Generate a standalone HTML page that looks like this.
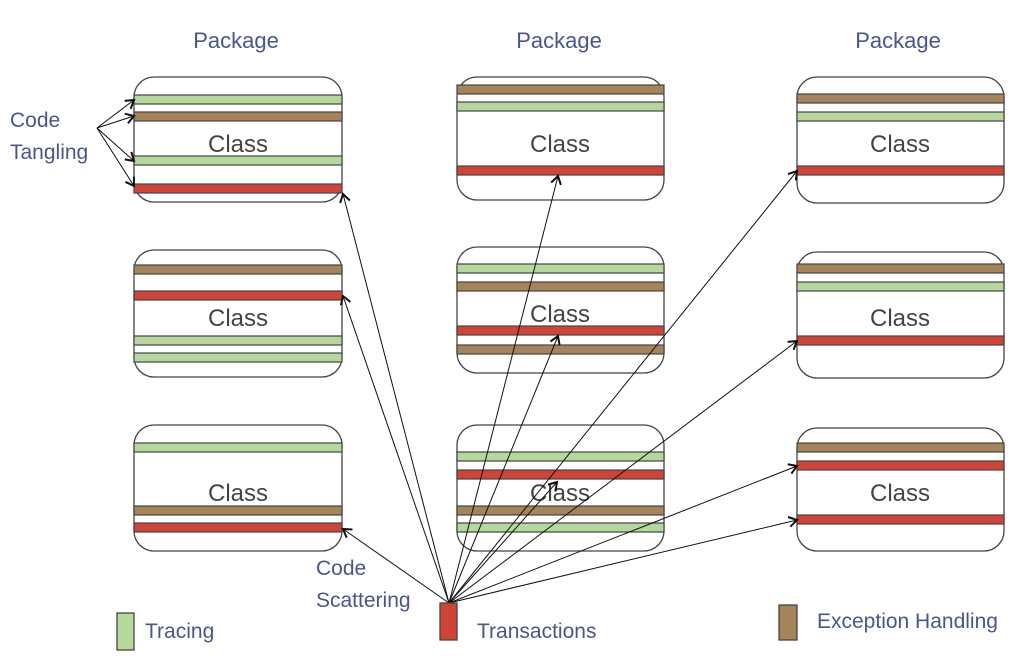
<!DOCTYPE html>
<html><head><meta charset="utf-8"><style>
html,body{margin:0;padding:0;background:#fff;}
svg{display:block;}
.t{font-family:"Liberation Sans",sans-serif;fill:#4a5590;}
.c{font-family:"Liberation Sans",sans-serif;fill:#444;font-size:24px;}
</style></head><body>
<svg width="1024" height="656" viewBox="0 0 1024 656" xmlns="http://www.w3.org/2000/svg">
<defs>
<marker id="a" markerWidth="12" markerHeight="12" refX="10" refY="6" orient="auto" markerUnits="userSpaceOnUse">
<path d="M2,1 L10,6 L2,11" fill="none" stroke="#111" stroke-width="2"/>
</marker>
</defs>
<g class="t" font-size="22" text-anchor="middle">
<text x="236" y="48">Package</text>
<text x="559" y="48">Package</text>
<text x="898" y="48">Package</text>
</g>
<g fill="#fff" stroke="#444" stroke-width="1.3">
<rect x="134" y="77" width="208" height="125" rx="20"/>
<rect x="134" y="250" width="208" height="127" rx="20"/>
<rect x="134" y="425" width="208" height="126" rx="20"/>
<rect x="457" y="77" width="207" height="123" rx="20"/>
<rect x="457" y="247" width="207" height="126" rx="20"/>
<rect x="457" y="425" width="207" height="126" rx="20"/>
<rect x="797" y="77" width="207" height="126" rx="20"/>
<rect x="797" y="252" width="207" height="126" rx="20"/>
<rect x="797" y="428" width="207" height="123" rx="20"/>
</g>
<g stroke="#444" stroke-width="1.2">
<!-- col1 -->
<rect x="134" y="95" width="208" height="9" fill="#b5d89c"/>
<rect x="134" y="112" width="208" height="9" fill="#a6845a"/>
<rect x="134" y="156" width="208" height="9" fill="#b5d89c"/>
<rect x="134" y="184" width="208" height="9" fill="#cf4436"/>
<rect x="134" y="265" width="208" height="9" fill="#a6845a"/>
<rect x="134" y="291" width="208" height="9" fill="#cf4436"/>
<rect x="134" y="336" width="208" height="9" fill="#b5d89c"/>
<rect x="134" y="353" width="208" height="9" fill="#b5d89c"/>
<rect x="134" y="443" width="208" height="9" fill="#b5d89c"/>
<rect x="134" y="506" width="208" height="9" fill="#a6845a"/>
<rect x="134" y="523" width="208" height="9" fill="#cf4436"/>
<!-- col2 -->
<rect x="457" y="85" width="207" height="9" fill="#a6845a"/>
<rect x="457" y="102" width="207" height="9" fill="#b5d89c"/>
<rect x="457" y="166" width="207" height="9" fill="#cf4436"/>
<rect x="457" y="264" width="207" height="9" fill="#b5d89c"/>
<rect x="457" y="282" width="207" height="9" fill="#a6845a"/>
<rect x="457" y="326" width="207" height="9" fill="#cf4436"/>
<rect x="457" y="345" width="207" height="9" fill="#a6845a"/>
<rect x="457" y="452" width="207" height="9" fill="#b5d89c"/>
<rect x="457" y="470" width="207" height="9" fill="#cf4436"/>
<rect x="457" y="506" width="207" height="9" fill="#a6845a"/>
<rect x="457" y="523" width="207" height="9" fill="#b5d89c"/>
<!-- col3 -->
<rect x="797" y="94" width="207" height="9" fill="#a6845a"/>
<rect x="797" y="112" width="207" height="9" fill="#b5d89c"/>
<rect x="797" y="166" width="207" height="9" fill="#cf4436"/>
<rect x="797" y="264" width="207" height="9" fill="#a6845a"/>
<rect x="797" y="282" width="207" height="9" fill="#b5d89c"/>
<rect x="797" y="336" width="207" height="9" fill="#cf4436"/>
<rect x="797" y="443" width="207" height="9" fill="#a6845a"/>
<rect x="797" y="461" width="207" height="9" fill="#cf4436"/>
<rect x="797" y="515" width="207" height="9" fill="#cf4436"/>
</g>
<g class="c" text-anchor="middle">
<text x="238" y="152">Class</text>
<text x="238" y="326">Class</text>
<text x="238" y="501">Class</text>
<text x="560" y="152">Class</text>
<text x="560" y="322">Class</text>
<text x="560" y="501">Class</text>
<text x="900" y="152">Class</text>
<text x="900" y="326">Class</text>
<text x="900" y="501">Class</text>
</g>
<g stroke="#111" stroke-width="1" fill="none" marker-end="url(#a)">
<line x1="97" y1="128" x2="134" y2="100"/>
<line x1="97" y1="128" x2="134" y2="116"/>
<line x1="97" y1="128" x2="134" y2="161"/>
<line x1="97" y1="128" x2="134" y2="186"/>
<line x1="449" y1="603" x2="343" y2="194"/>
<line x1="449" y1="603" x2="343" y2="296"/>
<line x1="449" y1="603" x2="343" y2="529"/>
<line x1="449" y1="603" x2="558" y2="176"/>
<line x1="449" y1="603" x2="558" y2="336"/>
<line x1="449" y1="603" x2="557" y2="482"/>
<line x1="449" y1="603" x2="797" y2="171"/>
<line x1="449" y1="603" x2="797" y2="341"/>
<line x1="449" y1="603" x2="797" y2="466"/>
<line x1="449" y1="603" x2="797" y2="520"/>
</g>
<g class="t" font-size="21">
<text x="10" y="127">Code</text>
<text x="10" y="159">Tangling</text>
<text x="316" y="575">Code</text>
<text x="316" y="607">Scattering</text>
<text x="145" y="638">Tracing</text>
<text x="477" y="638">Transactions</text>
<text x="817" y="628">Exception Handling</text>
</g>
<g stroke="#444" stroke-width="1.3">
<rect x="117" y="613" width="17" height="37" fill="#b5d89c"/>
<rect x="440" y="603" width="17" height="37" fill="#cf4436"/>
<rect x="779" y="605" width="18" height="35" fill="#a6845a"/>
</g>
</svg>
</body></html>
